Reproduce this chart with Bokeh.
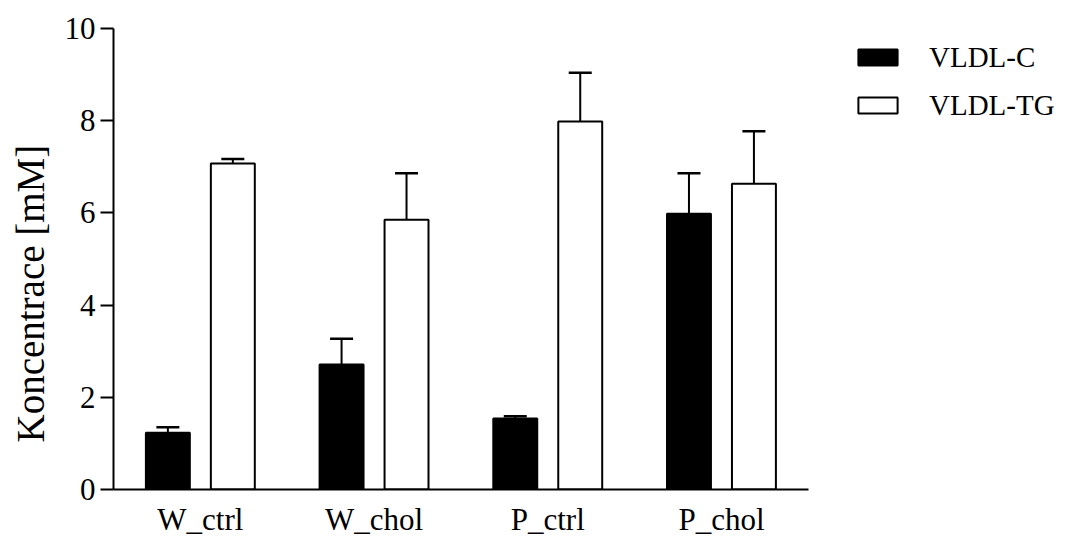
from bokeh.plotting import figure
from bokeh.models import (ColumnDataSource, Range1d, Whisker, TeeHead, Legend,
                          LegendItem, Title, FixedTicker)
from bokeh.embed import file_html
from bokeh.resources import INLINE

groups = ["W_ctrl", "W_chol", "P_ctrl", "P_chol"]
series = ["VLDL-C", "VLDL-TG"]
vldl_c = [1.23, 2.71, 1.54, 5.98]
vldl_c_err = [0.12, 0.56, 0.05, 0.88]
vldl_tg = [7.07, 5.85, 7.98, 6.63]
vldl_tg_err = [0.10, 1.01, 1.06, 1.14]
y_ticks = [0, 2, 4, 6, 8, 10]
y_label = "Koncentrace [mM]"

FONT = "Liberation Serif"

# layout constants (pixels / offsets, not data)
FRAME_W, FRAME_H = 944, 461
GROUP_PX = 173.7
off = 0.187
bw = 0.253

pos = list(range(len(groups)))
src = ColumnDataSource(dict(
    xc=[i - off for i in pos],
    xt=[i + off for i in pos],
    c=vldl_c,
    c_top=[v + e for v, e in zip(vldl_c, vldl_c_err)],
    tg=vldl_tg,
    tg_top=[v + e for v, e in zip(vldl_tg, vldl_tg_err)],
))

x_end = -0.5 + FRAME_W / GROUP_PX

p = figure(x_range=Range1d(-0.5, x_end), y_range=(0, 10),
           frame_width=FRAME_W, frame_height=FRAME_H,
           output_backend="svg", toolbar_location=None,
           min_border_left=0, min_border_right=3, min_border_top=28,
           min_border_bottom=0)
p.grid.visible = False
p.outline_line_color = None
p.background_fill_color = "white"

r_c = p.vbar(x="xc", top="c", bottom=0, width=bw, source=src,
             fill_color="black", line_color="black", line_width=2)
r_tg = p.vbar(x="xt", top="tg", bottom=0, width=bw, source=src,
              fill_color="white", line_color="black", line_width=2)

for base, lo, hi in [("xc", "c", "c_top"), ("xt", "tg", "tg_top")]:
    w = Whisker(base=base, lower=lo, upper=hi, source=src, dimension="height",
                line_color="black", line_width=2, lower_head=None,
                upper_head=TeeHead(size=23, line_color="black", line_width=2.5))
    p.add_layout(w)

# y axis
p.yaxis.ticker = FixedTicker(ticks=y_ticks)
p.yaxis.minor_tick_line_color = None
p.yaxis.major_tick_out = 13
p.yaxis.major_tick_in = 0
p.yaxis.major_tick_line_width = 2
p.yaxis.axis_line_width = 2
p.yaxis.major_label_standoff = 5
p.yaxis.major_label_text_font = FONT
p.yaxis.major_label_text_font_size = "31px"
p.yaxis.major_label_text_color = "black"

# x axis (category labels)
p.xaxis.ticker = FixedTicker(ticks=pos)
p.xaxis.major_label_overrides = {i: g for i, g in zip(pos, groups)}
p.xaxis.bounds = (-0.5, len(groups) - 0.5)
p.xaxis.major_tick_line_color = None
p.xaxis.minor_tick_line_color = None
p.xaxis.axis_line_width = 2
p.xaxis.major_label_standoff = 6
p.xaxis.major_label_text_font = FONT
p.xaxis.major_label_text_font_size = "31px"
p.xaxis.major_label_text_color = "black"

ylab = Title(text=y_label, align="left", offset=47, text_font=FONT,
             text_font_size="39px", text_font_style="normal", text_color="black",
             vertical_align="top", standoff=16)
p.add_layout(ylab, "left")

legend = Legend(items=[LegendItem(label=series[0], renderers=[r_c]),
                       LegendItem(label=series[1], renderers=[r_tg])],
                location=(740, 367), orientation="vertical",
                glyph_width=49, glyph_height=20, label_height=34, spacing=14,
                padding=0, margin=0, label_standoff=27,
                label_text_font=FONT, label_text_font_size="29px",
                label_text_color="black", border_line_color=None,
                background_fill_alpha=0)
p.add_layout(legend)

open("out.html", "w").write(file_html(p, INLINE))
